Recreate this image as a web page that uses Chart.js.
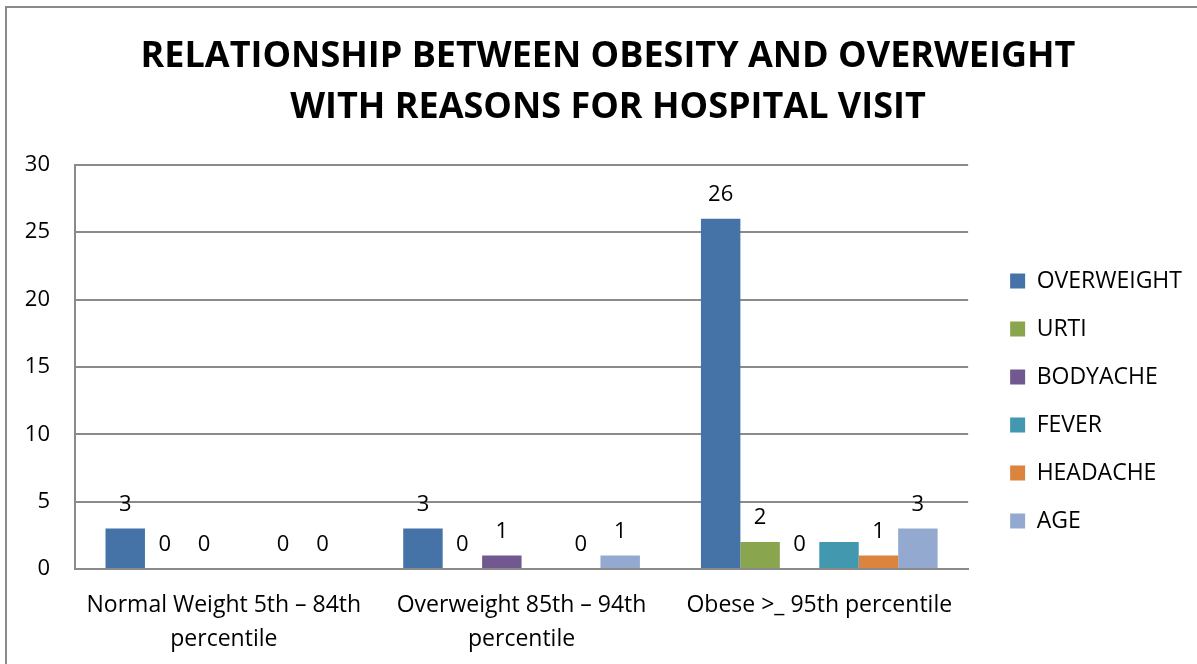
<!DOCTYPE html>
<html>
<head>
<meta charset="utf-8">
<script src="https://cdn.jsdelivr.net/npm/chart.js@4.4.0/dist/chart.umd.min.js"></script>
<style>
  html, body { margin: 0; padding: 0; background: #fff; }
  #frame {
    position: absolute; left: 5px; top: 6px; width: 1192px; height: 658px;
    border-left: 2px solid #8a8a8a; border-top: 2px solid #8a8a8a;
  }
  #wrap { position: absolute; left: 0; top: 0; width: 1197px; height: 664px; }
</style>
</head>
<body>
<div id="frame"></div>
<div id="wrap"><canvas id="chartCanvas"></canvas></div>
<script>
const categories = [
  ['Normal Weight 5th \u2013 84th', 'percentile'],
  ['Overweight 85th \u2013 94th', 'percentile'],
  'Obese >_ 95th percentile'
];
const seriesNames = ['OVERWEIGHT', 'URTI', 'BODYACHE', 'FEVER', 'HEADACHE', 'AGE'];
const overweight = [3, 3, 26];
const urti = [0, 0, 2];
const bodyache = [0, 1, 0];
const fever = [null, null, 2];
const headache = [0, 0, 1];
const age = [0, 1, 3];
const showLabels = [true, true, true, false, true, true];
const yTicks = [0, 5, 10, 15, 20, 25, 30];

const colors = ['#4572A7', '#89A54E', '#71588F', '#4198AF', '#DB843D', '#93A9CF'];
const font = "'Open Sans', 'Noto Sans', sans-serif";

const values = [overweight, urti, bodyache, fever, headache, age];

// value labels above each bar (FEVER has none in the original)
const barLabels = {
  id: 'barLabels',
  afterDatasetsDraw(chart) {
    const ctx = chart.ctx;
    ctx.save();
    ctx.font = `22px ${font}`;
    ctx.fillStyle = '#000';
    ctx.textAlign = 'center';
    ctx.textBaseline = 'bottom';
    chart.data.datasets.forEach((ds, i) => {
      if(!showLabels[i]) {
        return;
      }
      const meta = chart.getDatasetMeta(i);
      meta.data.forEach((bar, j) => {
        const v = ds.data[j];
        if(v === null || v === undefined) {
          return;
        }
        ctx.fillText(String(v), bar.x, bar.y - 13);
      });
    });
    ctx.restore();
  }
};

// invisible axis used only to reserve horizontal space
const spacer = (width, weight) => ({
  type: 'linear',
  position: 'right',
  display: true,
  weight,
  grid: { display: false, drawTicks: false },
  border: { display: false },
  ticks: { display: false },
  afterFit: axis => { axis.width = width; }
});

new Chart(document.getElementById('chartCanvas'), {
  type: 'bar',
  data: {
    labels: categories,
    datasets: seriesNames.map((name, i) => ({
      label: name,
      data: values[i],
      backgroundColor: colors[i],
      borderWidth: 0,
      categoryPercentage: 0.795,
      barPercentage: 1
    }))
  },
  options: {
    responsive: true,
    maintainAspectRatio: false,
    animation: false,
    layout: { padding: { left: 20, right: 1, top: 32, bottom: 0 } },
    plugins: {
      title: {
        display: true,
        text: ['RELATIONSHIP BETWEEN OBESITY AND OVERWEIGHT', 'WITH REASONS FOR HOSPITAL VISIT'],
        color: '#000',
        font: { family: font, size: 36, weight: 'bold', lineHeight: 1.4 },
        padding: { top: 0, bottom: 32 }
      },
      legend: {
        position: 'right',
        maxWidth: 240,
        title: { display: true, text: '', font: { size: 10, lineHeight: 1 }, padding: { top: 96, bottom: 0 } },
        labels: {
          color: '#000',
          font: { family: font, size: 23 },
          boxWidth: 15,
          boxHeight: 15,
          padding: 25
        }
      },
      tooltip: { enabled: false }
    },
    scales: {
      x: {
        grid: { display: false, drawTicks: false },
        border: { display: true, color: '#8a8a8a', width: 2 },
        ticks: {
          color: '#000',
          font: { family: font, size: 23, lineHeight: 1.45 },
          maxRotation: 0,
          padding: 20
        },
        afterFit: axis => { axis.height = 95; }
      },
      y: {
        min: 0,
        max: 30,
        afterBuildTicks: axis => { axis.ticks = yTicks.map(v => ({ value: v })); },
        grid: { color: '#8a8a8a', lineWidth: 2, drawTicks: false },
        border: { display: true, color: '#8a8a8a', width: 2 },
        ticks: {
          color: '#000',
          font: { family: font, size: 22 },
          padding: 25
        },
        afterFit: axis => { axis.width = 55; }
      },
      gap: spacer(17, 0),
      edge: spacer(4, 2000)
    }
  },
  plugins: [barLabels]
});
</script>
</body>
</html>
